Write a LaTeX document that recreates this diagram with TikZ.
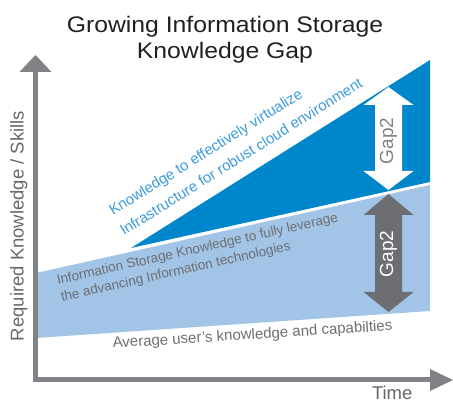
\documentclass[tikz,border=0pt]{standalone}
\usepackage{fontspec}
\setmainfont{Liberation Sans}
\newfontfamily\titlefont[FakeStretch=1.1]{Liberation Sans}
\definecolor{dblue}{HTML}{0086CA}
\definecolor{lblue}{HTML}{A2C4E6}
\definecolor{tblue}{HTML}{3D9BDB}
\definecolor{agray}{HTML}{808285}
\definecolor{darrow}{HTML}{6D6E71}
\definecolor{tgray}{HTML}{6D6E71}
\definecolor{ttitle}{HTML}{231F20}
\begin{document}
\begin{tikzpicture}[x=1pt,y=-1pt,
  txt/.style={inner sep=0pt, outer sep=0pt},
  titletxt/.style={txt, text=ttitle, font=\titlefont\fontsize{22.5}{26}\selectfont, anchor=base},
  axislabel/.style={txt, text=agray!80!black, font=\fontsize{18.5}{22}\selectfont},
  toptxt/.style={txt, text=tblue, font=\fontsize{15}{18}\selectfont, rotate=32, anchor=base west},
  bandtxt/.style={txt, text=tgray, font=\fontsize{13.5}{16}\selectfont, rotate=12.65, anchor=base west},
  gaptxt/.style={txt, font=\fontsize{19}{22}\selectfont, rotate=90, anchor=center}]
\useasboundingbox (0,0) rectangle (453,403);
% light blue band
\coordinate (b1) at (36,273);
\coordinate (b2) at (430,185);
\coordinate (b3) at (430,311);
\coordinate (b4) at (36,338);
\fill[lblue] (b1) -- (b2) -- (b3) -- (b4) -- cycle;
% dark blue wedge
\coordinate (d1) at (131,248);
\coordinate (d2) at (430,60);
\coordinate (d3) at (430,182);
\fill[dblue] (d1) -- (d2) -- (d3) -- cycle;
% white double arrow
\fill[white] (388.5,87) -- (413.5,105) -- (402,105) -- (402,171) -- (413.5,171) -- (388.5,190)
  -- (363.5,171) -- (375,171) -- (375,105) -- (363.5,105) -- cycle;
% gray double arrow
\fill[darrow] (388.5,194) -- (413.5,215) -- (402,215) -- (402,292) -- (413.5,292) -- (388.5,312)
  -- (363.5,292) -- (375,292) -- (375,215) -- (363.5,215) -- cycle;
% axes
\coordinate (origin) at (33,382.5);
\coordinate (ytop) at (38,72);
\fill[agray] (origin) rectangle (ytop);
\fill[agray] (19.5,72) -- (35.5,55) -- (51.5,72) -- cycle;
\coordinate (xend) at (431,377.5);
\fill[agray] (origin) rectangle (xend);
\fill[agray] (430,369) -- (453,380) -- (430,391) -- cycle;
% title
\node[titletxt] (t1) at (225,33) {Growing Information Storage};
\node[titletxt] (t2) at (225,59) {Knowledge Gap};
% axis labels
\node[axislabel, rotate=90, anchor=base] (ylab) at (23.5,226) {Required Knowledge / Skills};
\node[axislabel, anchor=base west] (xlab) at (372,400) {Time};
% texts
\node[toptxt] (k1) at (113,216) {Knowledge to effectively virtualize};
\node[toptxt] (k2) at (124,236) {Infrastructure for robust cloud environment};
\node[bandtxt] (i1) at (58,284.5) {Information Storage Knowledge to fully leverage};
\node[bandtxt] (i2) at (62,301.5) {the advancing Information technologies};
\node[txt, text=tgray, font=\fontsize{15}{18}\selectfont, rotate=3.6, anchor=base west] (avg) at (113,348) {Average user’s knowledge and capabilties};
% gap labels
\node[gaptxt, text=agray] (g1) at (388.5,141) {Gap2};
\node[gaptxt, text=white] (g2) at (388.5,254) {Gap2};
\end{tikzpicture}
\end{document}
